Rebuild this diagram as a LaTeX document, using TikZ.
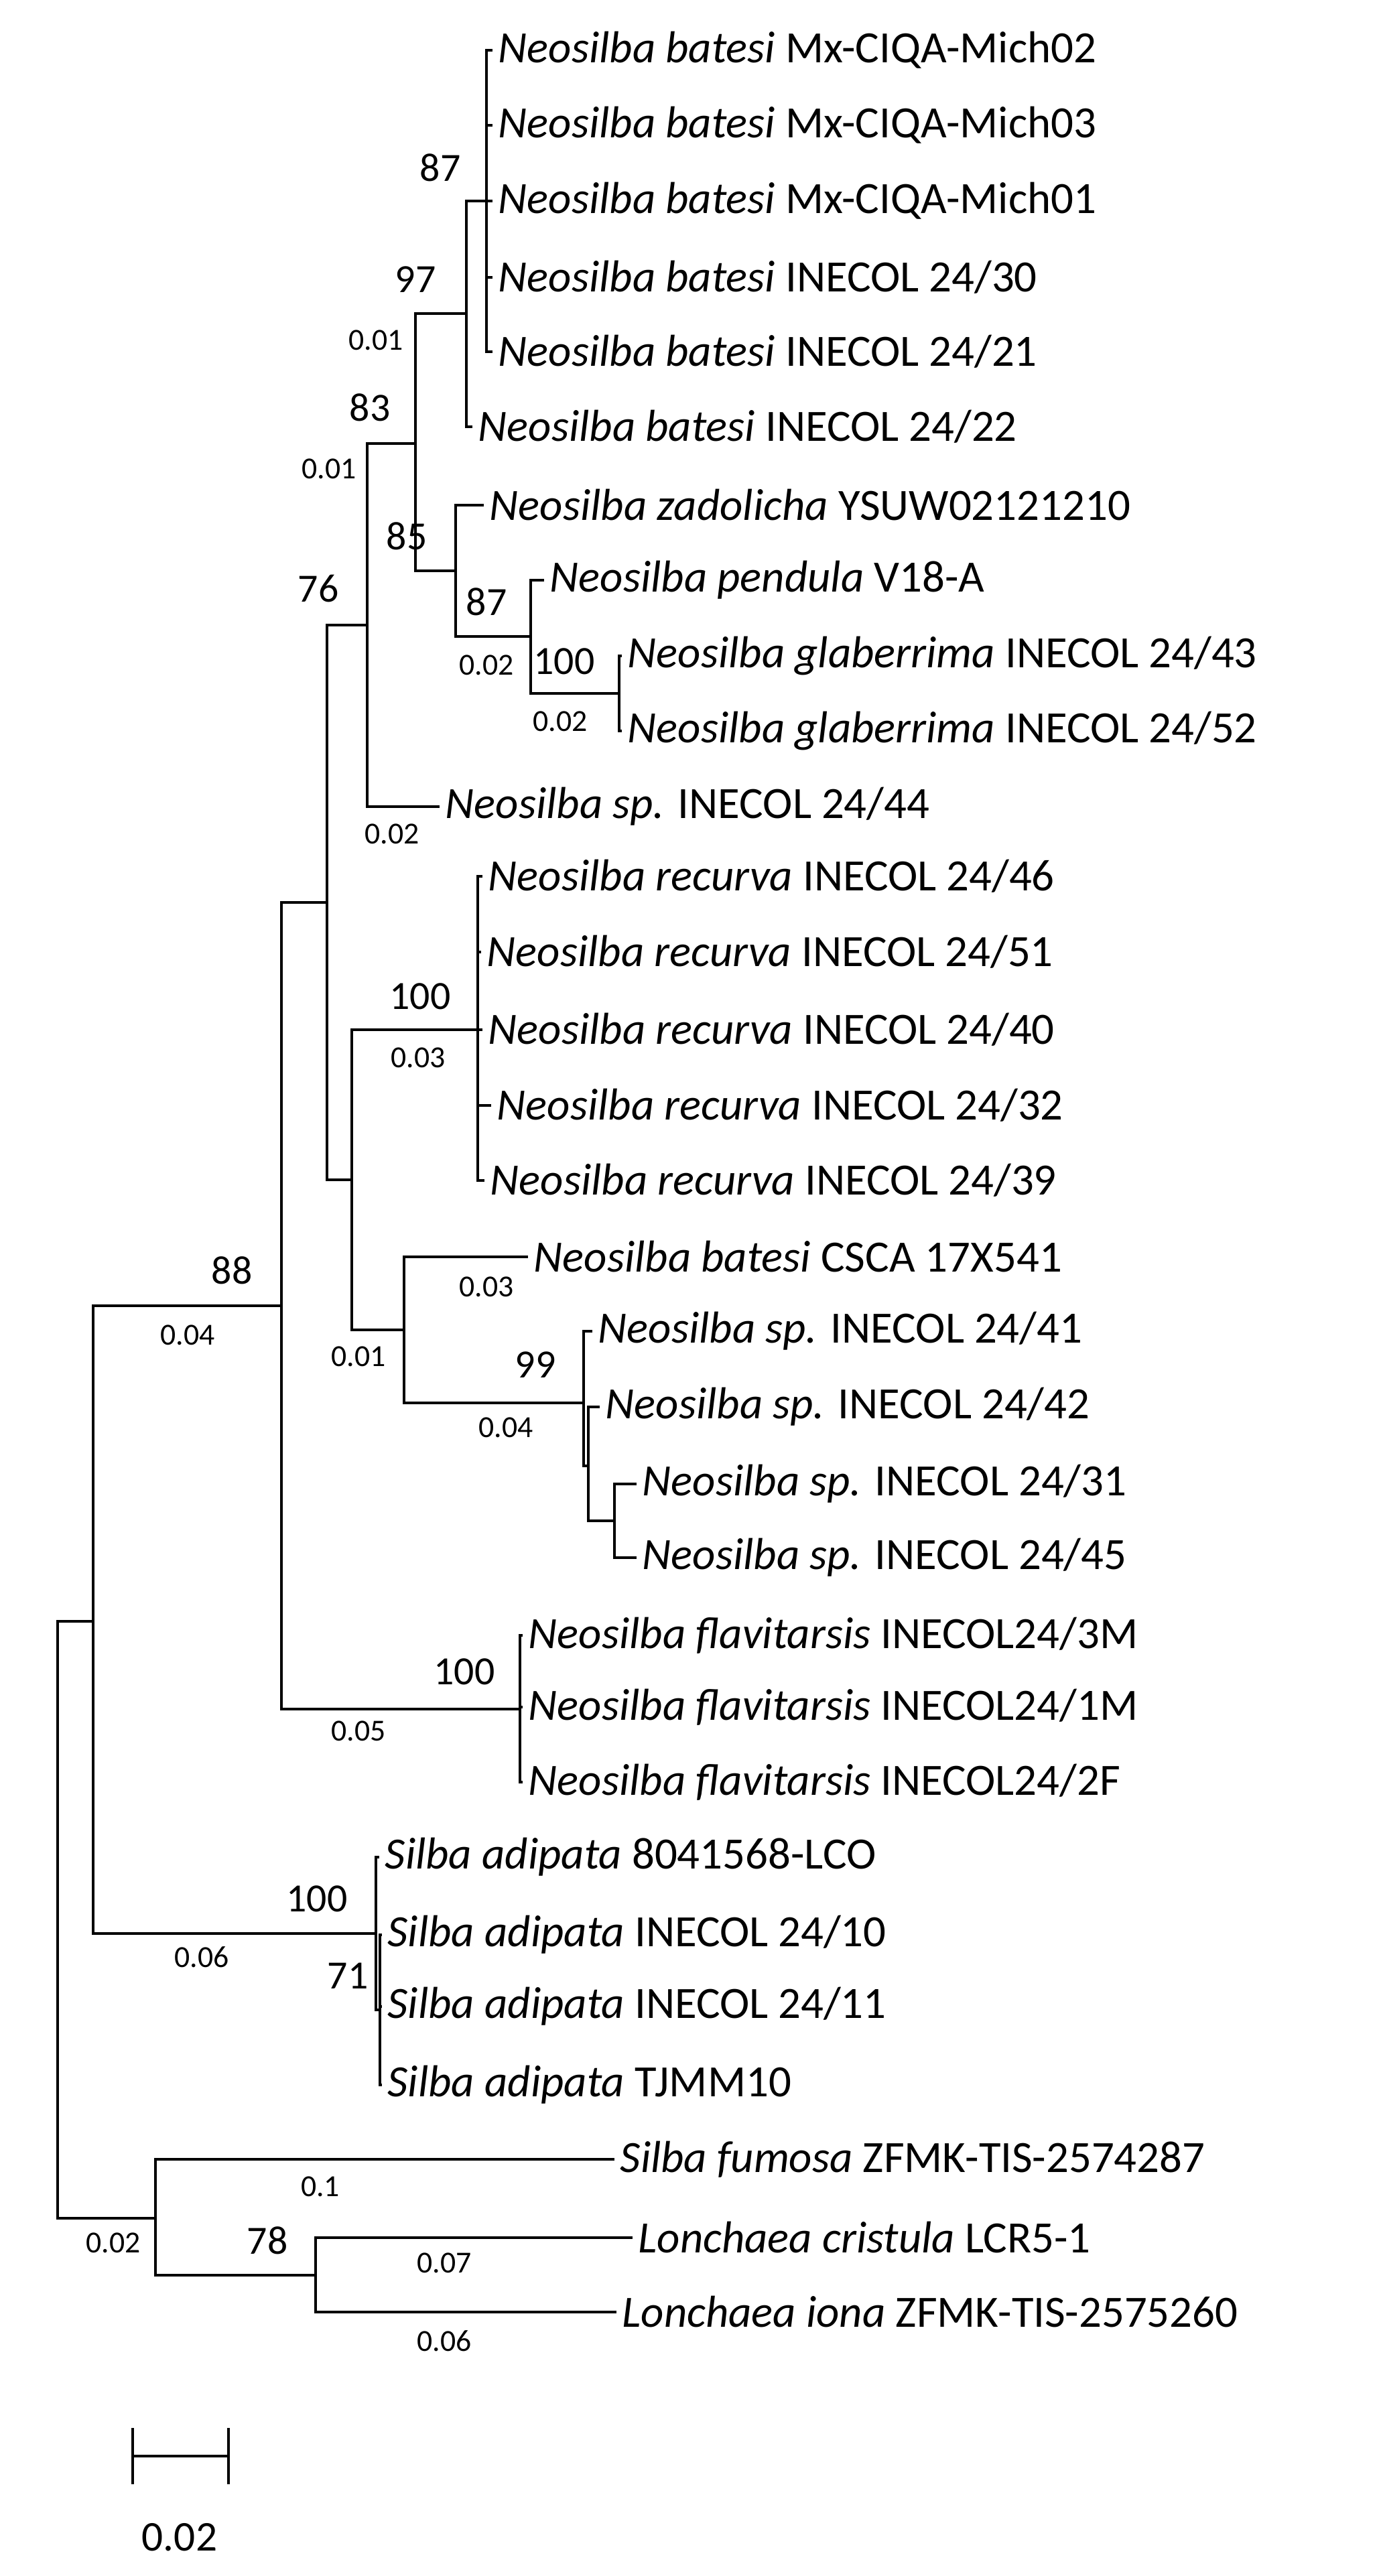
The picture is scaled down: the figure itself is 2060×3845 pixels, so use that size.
\documentclass[tikz,border=0pt]{standalone}
\usepackage{fontspec}
\setmainfont{Carlito}
\begin{document}
\begin{tikzpicture}[x=0.01cm,y=-0.01cm,line width=1pt,
    leaf/.style={anchor=west,inner sep=2pt,font=\fontsize{19}{19}\selectfont},
    boot/.style={font=\fontsize{17}{17}\selectfont},
    blen/.style={font=\fontsize{13}{13}\selectfont}]
  \useasboundingbox (0,0) rectangle (2060,3845);
  % tips
  \foreach \n/\x/\y/\sp/\id in {
      l1/735/75/Neosilba batesi/Mx-CIQA-Mich02, l2/735/187/Neosilba batesi/Mx-CIQA-Mich03,
      l3/735/300/Neosilba batesi/Mx-CIQA-Mich01, l4/735/414/Neosilba batesi/INECOL 24{/}30,
      l5/735/525/Neosilba batesi/INECOL 24{/}21, l6/705/637/Neosilba batesi/INECOL 24{/}22,
      l7/722/754/Neosilba zadolicha/YSUW02121210, l8/812/866/Neosilba pendula/V18-A,
      l9/928/979/Neosilba glaberrima/INECOL 24{/}43, l10/928/1091/Neosilba glaberrima/INECOL 24{/}52,
      l11/656/1204/Neosilba sp./INECOL 24{/}44, l12/720/1308/Neosilba recurva/INECOL 24{/}46,
      l13/718/1421/Neosilba recurva/INECOL 24{/}51, l14/720/1537/Neosilba recurva/INECOL 24{/}40,
      l15/733/1650/Neosilba recurva/INECOL 24{/}32, l16/723/1762/Neosilba recurva/INECOL 24{/}39,
      l17/788/1876/Neosilba batesi/CSCA 17X541, l18/884/1987/Neosilba sp./INECOL 24{/}41,
      l19/895/2100/Neosilba sp./INECOL 24{/}42, l20/950/2215/Neosilba sp./INECOL 24{/}31,
      l21/950/2325/Neosilba sp./INECOL 24{/}45, l22/780/2441/Neosilba flavitarsis/INECOL24{/}3M,
      l23/780/2548/Neosilba flavitarsis/INECOL24{/}1M, l24/780/2660/Neosilba flavitarsis/INECOL24{/}2F,
      l25/566/2772/Silba adipata/8041568-LCO, l26/570/2888/Silba adipata/INECOL 24{/}10,
      l27/570/2995/Silba adipata/INECOL 24{/}11, l28/570/3112/Silba adipata/TJMM10,
      l29/917/3223/Silba fumosa/ZFMK-TIS-2574287, l30/944/3340/Lonchaea cristula/LCR5-1,
      l31/920/3451/Lonchaea iona/ZFMK-TIS-2575260}{
    \coordinate (\n) at (\x,\y);
    \node[leaf] (t\n) at (\n) {\textit{\sp} \id};
  }
  % inner nodes
  \foreach \n/\x/\y in {nA/726/300, nB/696/468, nF/924/1035, nE/792/950, nD/680/852,
      nC/620/662, nG/548/933, nH/488/1347, nJ/713/1537, nN/917/2270, nM/878/2188,
      nL/871/2094, nK/603/1985, nI/525/1761, nP/776/2551, nO/420/1949, nQ/139/2420,
      nS/567/3000, nR/561/2886, nV/471/3396, nU/232/3311, nT/86/2869}{
    \coordinate (\n) at (\x,\y);
  }
  % branches
  \foreach \p/\c in {nA/l1,nA/l2,nA/l3,nA/l4,nA/l5, nB/nA,nB/l6, nF/l9,nF/l10, nE/l8,nE/nF,
      nD/l7,nD/nE, nC/nB,nC/nD, nG/nC,nG/l11, nH/nG,nH/nI,
      nJ/l12,nJ/l13,nJ/l14,nJ/l15,nJ/l16, nN/l20,nN/l21, nM/l19,nM/nN, nL/l18,nL/nM,
      nK/l17,nK/nL, nI/nJ,nI/nK, nP/l22,nP/l23,nP/l24, nO/nH,nO/nP, nQ/nO,nQ/nR,
      nS/l26,nS/l27,nS/l28, nR/l25,nR/nS, nV/l30,nV/l31, nU/l29,nU/nV, nT/nQ,nT/nU}{
    \draw (\p) |- (\c);
  }
  % bootstrap
  \foreach \n/\x/\y/\t in {b1/657/250/87, b2/620/417/97, b3/552/608/83, b4/607/800/85,
      b5/726/898/87, b6/842/987/100, b7/475/879/76, b8/627/1487/100, b9/346/1896/88,
      b10/799/2037/99, b11/693/2495/100, b12/473/2834/100, b13/519/2949/71, b14/399/3344/78}{
    \node[boot] (\n) at (\x,\y) {\t};
  }
  % branch lengths
  \foreach \n/\x/\y/\t in {d1/561/508/0.01, d2/491/700/0.01, d3/726/993/0.02, d4/836/1077/0.02,
      d5/585/1245/0.02, d6/624/1579/0.03, d7/726/1921/0.03, d8/535/2025/0.01, d9/755/2131/0.04,
      d10/280/1993/0.04, d11/535/2584/0.05, d12/301/2921/0.06, d13/478/3264/0.1,
      d14/169/3348/0.02, d15/663/3378/0.07, d16/663/3494/0.06}{
    \node[blen] (\n) at (\x,\y) {\t};
  }
  % scale bar
  \coordinate (s1) at (198,3666);
  \coordinate (s2) at (341,3666);
  \draw (s1) -- (s2);
  \draw ([yshift=-12]s1) -- ([yshift=12]s1) ([yshift=-12]s2) -- ([yshift=12]s2);
  \node[boot,font=\fontsize{18}{18}\selectfont] (sc) at (268,3787) {0.02};
\end{tikzpicture}
\end{document}
